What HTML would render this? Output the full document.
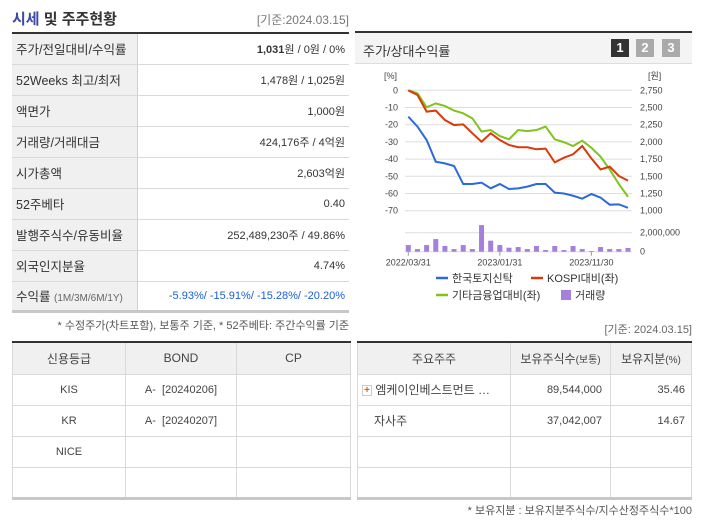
<!DOCTYPE html>
<html><head><meta charset="utf-8">
<style>
*{box-sizing:border-box;margin:0;padding:0}
body{width:702px;height:525px;background:#fff;font-family:"Liberation Sans","Noto Sans CJK KR",sans-serif;font-size:12px;color:#333;position:relative;overflow:hidden}
.abs{position:absolute}
table{border-collapse:collapse;position:absolute;table-layout:fixed}
td{font-size:11px;color:#333;padding:0}
.t1 td{height:31px;border-bottom:1px solid #d9d9d9}
.t1 td.l{background:#f0f0f0;border-right:1px solid #d0d0d0;padding-left:4px;font-size:12.5px}
.t1 td.r{text-align:right;padding-right:4px}
.bt td{height:31px;border:1px solid #d9d9d9;text-align:center;color:#444}
.bt tr:first-child td{background:#f0f0f0;height:32px;font-size:12px}
.bt{border-top:2px solid #333;border-bottom:3px solid #c8c8c8}
</style></head><body>
<div class="abs" style="left:12px;top:8px;font-size:15px;font-weight:bold;color:#333"><span style="color:#3b4aa8">시세</span> 및 주주현황</div>
<div class="abs" style="right:353px;top:11px;font-size:12px;color:#777">[기준:2024.03.15]</div>

<table class="t1" style="left:12px;top:32px;width:337px;border-top:2px solid #333;border-bottom:3px solid #c8c8c8">
<colgroup><col style="width:125px"><col></colgroup>
<tr><td class="l">주가/전일대비/수익률</td><td class="r"><b>1,031</b>원 / 0원 / 0%</td></tr>
<tr><td class="l">52Weeks 최고/최저</td><td class="r">1,478원 / 1,025원</td></tr>
<tr><td class="l">액면가</td><td class="r">1,000원</td></tr>
<tr><td class="l">거래량/거래대금</td><td class="r">424,176주 / 4억원</td></tr>
<tr><td class="l">시가총액</td><td class="r">2,603억원</td></tr>
<tr><td class="l">52주베타</td><td class="r">0.40</td></tr>
<tr><td class="l">발행주식수/유동비율</td><td class="r">252,489,230주 / 49.86%</td></tr>
<tr><td class="l">외국인지분율</td><td class="r">4.74%</td></tr>
<tr><td class="l" style="height:30px">수익률 <span style="font-size:10px;color:#666">(1M/3M/6M/1Y)</span></td><td class="r" style="color:#1a5fd6;height:30px">-5.93%/ -15.91%/ -15.28%/ -20.20%</td></tr>
</table>
<div class="abs" style="right:353px;top:317px;font-size:11px;color:#555">* 수정주가(차트포함), 보통주 기준, * 52주베타: 주간수익률 기준</div>

<div class="abs" style="left:355px;top:31px;width:337px;height:33px;border-top:2px solid #333;background:#f4f4f4;border-bottom:1px solid #ddd">
<span style="position:absolute;left:8px;top:8px;font-size:13px;color:#333">주가/상대수익률</span>
<span style="position:absolute;left:256px;top:6px;width:18px;height:18px;background:#333;color:#fff;font-weight:bold;text-align:center;line-height:18px;font-size:13px">1</span>
<span style="position:absolute;left:281px;top:6px;width:18px;height:18px;background:#aaa;color:#fff;font-weight:bold;text-align:center;line-height:18px;font-size:13px">2</span>
<span style="position:absolute;left:307px;top:6px;width:18px;height:18px;background:#aaa;color:#fff;font-weight:bold;text-align:center;line-height:18px;font-size:13px">3</span>
</div>

<svg id="chart" class="abs" style="left:0;top:0" width="702" height="525"></svg>

<div class="abs" style="right:10px;top:321px;font-size:11px;color:#666">[기준: 2024.03.15]</div>

<table class="bt" style="left:12px;top:341px;width:339px">
<colgroup><col style="width:113px"><col style="width:111px"><col></colgroup>
<tr><td>신용등급</td><td>BOND</td><td>CP</td></tr>
<tr><td>KIS</td><td>A- &nbsp;[20240206]</td><td></td></tr>
<tr><td>KR</td><td>A- &nbsp;[20240207]</td><td></td></tr>
<tr><td>NICE</td><td></td><td></td></tr>
<tr><td></td><td></td><td></td></tr>
</table>

<table class="bt" style="left:357px;top:341px;width:335px">
<colgroup><col style="width:153px"><col style="width:100px"><col></colgroup>
<tr><td>주요주주</td><td>보유주식수<span style="font-size:10px">(보통)</span></td><td>보유지분<span style="font-size:10px">(%)</span></td></tr>
<tr><td style="text-align:left;padding-left:4px;font-size:12px"><span style="display:inline-block;width:10px;height:11px;border:1px solid #ccc;color:#e06010;font-size:10px;line-height:9px;text-align:center;font-weight:bold;vertical-align:middle">+</span> 엠케이인베스트먼트 …</td><td style="text-align:right;padding-right:8px">89,544,000</td><td style="text-align:right;padding-right:6px">35.46</td></tr>
<tr><td style="text-align:left;padding-left:16px;font-size:12px">자사주</td><td style="text-align:right;padding-right:8px">37,042,007</td><td style="text-align:right;padding-right:6px">14.67</td></tr>
<tr><td></td><td></td><td></td></tr>
<tr><td></td><td></td><td></td></tr>
</table>
<div class="abs" style="right:10px;top:502px;font-size:11px;color:#555">* 보유지분 : 보유지분주식수/지수산정주식수*100</div>

<script>
const company = [-15.3,-21.1,-28.9,-41.5,-42.5,-44,-54.5,-54.5,-53.7,-57,-54.5,-57.4,-57,-56,-54.5,-54.5,-59.5,-60,-61.3,-63,-60.3,-62.4,-66.5,-66.3,-68.3];
const kospi = [0,-2.7,-12.4,-11.8,-17.3,-20.2,-19.8,-25,-29.9,-25,-28.9,-31.8,-33.1,-33.1,-34.3,-33.9,-41.9,-39.2,-37.2,-32.4,-39.6,-46,-44.4,-49.8,-52.5];
const sector = [0,-1.7,-9.9,-7.6,-9.1,-11.8,-13.4,-16.3,-24,-23.1,-26.6,-28.5,-23.1,-23.7,-23.1,-21.1,-28.5,-30.2,-32.4,-29.3,-33.4,-38.6,-46,-54.5,-61.9];
const volume = [700000,280000,700000,1330000,600000,280000,700000,280000,2800000,1160000,700000,420000,490000,280000,600000,180000,600000,180000,600000,280000,70000,490000,280000,280000,390000];
const leftTicks = [0,-10,-20,-30,-40,-50,-60,-70];
const rightTicks = ["2,750","2,500","2,250","2,000","1,750","1,500","1,250","1,000"];
const dateLabels = ["2022/03/31","2023/01/31","2023/11/30"];
const dateIdx = [0,10,20];
const volTicks = [2000000,0];
const volTickLabels = ["2,000,000","0"];

const svg = document.getElementById('chart');
const NS='http://www.w3.org/2000/svg';
function el(t,a,txt){const e=document.createElementNS(NS,t);for(const k in a)e.setAttribute(k,a[k]);if(txt!==undefined)e.textContent=txt;svg.appendChild(e);return e;}
const x0=408.3, x1=628, n=company.length;
const xs=i=>x0+(x1-x0)*i/(n-1);
const ys=v=>90.3+(0-v)*(210.7-90.3)/70;
const vb=251.7, vs=v=>vb-v*(vb-232.7)/2000000;
const F='"Liberation Sans","Noto Sans CJK KR",sans-serif';

let t=el('text',{x:384,y:79,'font-size':9,fill:'#444','font-family':F},'[%]');

t=el('text',{x:648,y:79,'font-size':9,fill:'#444','font-family':F},'[원]');

leftTicks.forEach((v,i)=>{
  const g=el('line',{x1:405,x2:632,y1:ys(v),y2:ys(v),stroke:'#ddd','stroke-width':1});
  
  const a=el('text',{x:398,y:ys(v)+3,'font-size':9,fill:'#444','text-anchor':'end','font-family':F},String(v));
  
  const b=el('text',{x:640,y:ys(v)+3,'font-size':9,fill:'#444','font-family':F},rightTicks[i]);
  
});
volTicks.forEach((v,i)=>{
  const g=el('line',{x1:405,x2:632,y1:vs(v),y2:vs(v),stroke:'#ddd','stroke-width':1});
  
  const b=el('text',{x:640,y:vs(v)+3,'font-size':9,fill:'#444','font-family':F},volTickLabels[i]);
  
});
volume.forEach((v,i)=>{
  const r=el('rect',{x:xs(i)-2.5,y:vs(v),width:5,height:vb-vs(v),fill:'#a57fdc'});
  
});
dateLabels.forEach((d,i)=>{
  const x=xs(dateIdx[i]);
  const tk=el('line',{x1:x,x2:x,y1:vb,y2:vb+4,stroke:'#999'});
  
  const a=el('text',{x:x,y:vb+14,'font-size':9,fill:'#444','text-anchor':'middle','font-family':F},d);
  
});
function line(data,color,name){
  const p=el('polyline',{points:data.map((v,i)=>xs(i)+','+ys(v)).join(' '),fill:'none',stroke:color,'stroke-width':2});
  
}
line(sector,'#7fc31c','sector-line');
line(kospi,'#d83a0c','kospi-line');
line(company,'#2a6bd8','company-line');

function leg(x,y,color,label,sq,name){
  const m=sq?el('rect',{x:x,y:y-9,width:10,height:10,fill:color}):el('line',{x1:x,x2:x+12,y1:y-4,y2:y-4,stroke:color,'stroke-width':2.5});
  
  const a=el('text',{x:x+(sq?14:16),y:y,'font-size':11,fill:'#333','font-family':F},label);
  
}
leg(436,282,'#2a6bd8','한국토지신탁',false,'legend-company');
leg(531,282,'#d83a0c','KOSPI대비(좌)',false,'legend-kospi');
leg(436,299,'#7fc31c','기타금융업대비(좌)',false,'legend-sector');
leg(561,299,'#a57fdc','거래량',true,'legend-volume');
</script>
</body></html>
